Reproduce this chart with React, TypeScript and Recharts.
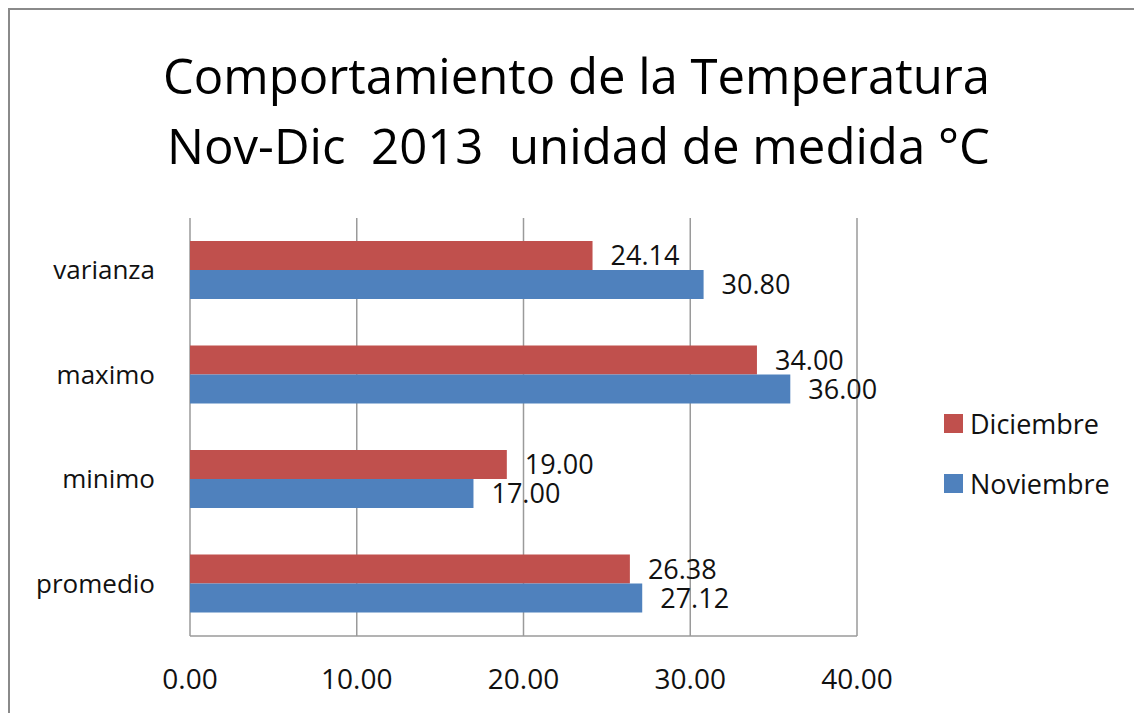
import React from "react";
import { BarChart, Bar, XAxis, YAxis, CartesianGrid, LabelList } from "recharts";

const categories = ["varianza", "maximo", "minimo", "promedio"];
const diciembre = [24.14, 34.0, 19.0, 26.38];
const noviembre = [30.8, 36.0, 17.0, 27.12];
const xTicks = [0, 10, 20, 30, 40];
const titleLines = ["Comportamiento de la Temperatura", "Nov-Dic  2013  unidad de medida °C"];
const seriesNames = ["Diciembre", "Noviembre"];

const RED = "#C0504D";
const BLUE = "#4F81BD";
const FONT = "'Open Sans', 'Noto Sans', sans-serif";

const data = categories.map((c, i) => ({ cat: c, Diciembre: diciembre[i], Noviembre: noviembre[i] }));
const fmt = (v: any) => Number(v).toFixed(2);

export default function App() {
  return (
    <div
      style={{
        position: "relative",
        width: 1128,
        height: 710,
        borderTop: "2px solid #8a8a8a",
        borderLeft: "2px solid #8a8a8a",
        borderRight: "1px solid #d0d0d0",
        background: "#fff",
        fontFamily: FONT,
      }}
    >
      <svg width={1128} height={200} style={{ position: "absolute", left: 0, top: 0 }}>
        <text x={153} y={84} fontSize={50} fill="#000" fontFamily={FONT} textLength={827} lengthAdjust="spacingAndGlyphs" style={{ whiteSpace: "pre" }}>
          {titleLines[0]}
        </text>
        <text x={157} y={154} fontSize={50} fill="#000" fontFamily={FONT} textLength={823} lengthAdjust="spacingAndGlyphs" style={{ whiteSpace: "pre" }}>
          {titleLines[1]}
        </text>
      </svg>
      <div style={{ position: "absolute", left: 0, top: 0 }}>
        <BarChart
          width={1128}
          height={710}
          data={data}
          layout="vertical"
          margin={{ top: 208, right: 281, bottom: 24, left: 0 }}
          barCategoryGap="22%"
          barGap={0}
        >
          <CartesianGrid horizontal={false} vertical={true} stroke="#9a9a9a" strokeWidth={1.5} />
          <XAxis
            type="number"
            domain={[0, 40]}
            ticks={xTicks}
            tickFormatter={fmt}
            axisLine={{ stroke: "#9a9a9a", strokeWidth: 1.5 }}
            tickLine={false}
            tickMargin={27}
            height={60}
            interval={0}
            tick={{ fontSize: 28, fill: "#111", fontFamily: FONT }}
          />
          <YAxis
            type="category"
            dataKey="cat"
            width={180}
            axisLine={false}
            tickLine={false}
            tickMargin={29}
            tick={{ fontSize: 26, fill: "#111", fontFamily: FONT }}
          />
          <Bar dataKey="Diciembre" fill={RED} isAnimationActive={false}>
            <LabelList dataKey="Diciembre" position="right" offset={18} formatter={fmt} style={{ fontSize: 27, fill: "#111", fontFamily: FONT }} />
          </Bar>
          <Bar dataKey="Noviembre" fill={BLUE} isAnimationActive={false}>
            <LabelList dataKey="Noviembre" position="right" offset={18} formatter={fmt} style={{ fontSize: 27, fill: "#111", fontFamily: FONT }} />
          </Bar>
        </BarChart>
      </div>
      {seriesNames.map((name, i) => (
        <div
          key={name}
          style={{ position: "absolute", left: 934, top: 397 + i * 60, height: 32, display: "flex", alignItems: "center" }}
        >
          <div style={{ width: 19, height: 19, background: i === 0 ? RED : BLUE, marginRight: 7 }} />
          <span style={{ fontSize: 27, color: "#111", fontFamily: FONT }}>{name}</span>
        </div>
      ))}
    </div>
  );
}
